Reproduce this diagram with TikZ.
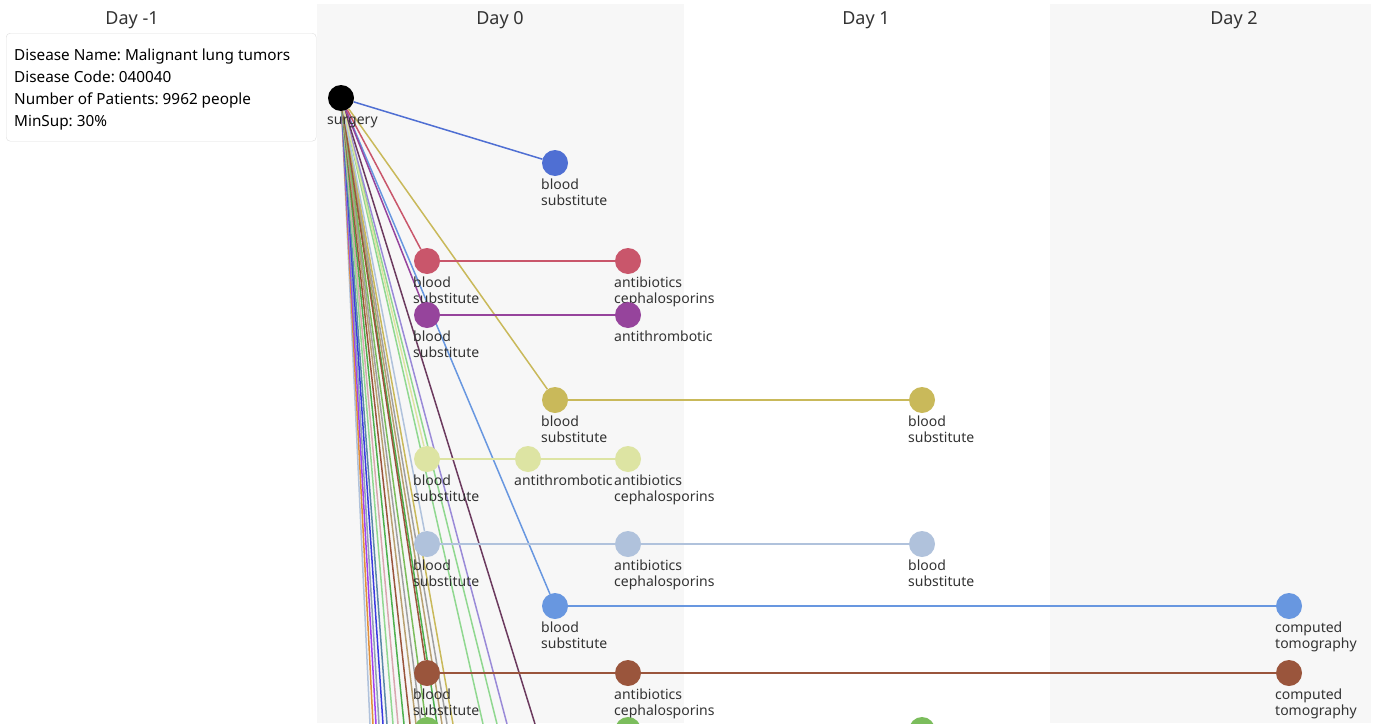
\documentclass[tikz,border=0pt]{standalone}
\usepackage{fontspec}
\setmainfont{Noto Sans}
\usetikzlibrary{positioning, backgrounds}
\frenchspacing

\definecolor{txt}{HTML}{333333}
\definecolor{colbg}{HTML}{F7F7F7}
\definecolor{boxline}{HTML}{DDDDDD}
\definecolor{cBlueA}{HTML}{4F6FD3}
\definecolor{cRed}{HTML}{C9566B}
\definecolor{cPurple}{HTML}{96449C}
\definecolor{cGold}{HTML}{C9B95A}
\definecolor{cPale}{HTML}{DDE4A3}
\definecolor{cMist}{HTML}{B0C2DC}
\definecolor{cCorn}{HTML}{6897E0}
\definecolor{cBrown}{HTML}{9A553C}
\definecolor{cGreen}{HTML}{7BBD5C}
\definecolor{cOrange}{HTML}{E0903A}
\definecolor{cViolet}{HTML}{A040F0}
\definecolor{cSlate}{HTML}{8FA0B8}
\definecolor{cBlueV}{HTML}{3A3AE0}
\definecolor{cSteel}{HTML}{5A88A8}
\definecolor{cLeaf}{HTML}{90D890}
\definecolor{cRose}{HTML}{D8A8B0}
\definecolor{cGreenD}{HTML}{4DB04D}
\definecolor{cTan}{HTML}{B8A070}
\definecolor{cGrayM}{HTML}{A0A0A0}
\definecolor{cLav}{HTML}{9A8AD8}
\definecolor{cPlum}{HTML}{6B3A5E}

\begin{document}
\begin{tikzpicture}[x=1pt, y=-1pt,
    ev/.style={circle, minimum size=26pt, inner sep=0pt},
    tag/.style={anchor=north west, xshift=-14pt, yshift=-2pt, align=left, inner sep=0pt,
        text=txt, font=\fontsize{14}{16}\selectfont},
    link/.style={line width=1.5pt},
    daytitle/.style={text=txt, font=\fontsize{18}{20}\selectfont},
    infobox/.style={draw=boxline, fill=white, rounded corners=4pt, anchor=north west,
        minimum width=310pt, minimum height=108pt, inner sep=0pt},
    infotext/.style={anchor=north west, inner sep=0pt, align=left,
        text=black, font=\fontsize{15.3}{22}\selectfont}]

    \useasboundingbox (0,0) rectangle (1375,723);
    \clip (0,0) rectangle (1375,723);

    % Day columns
    \begin{scope}[on background layer]
        \fill[colbg] (317,4) rectangle (684,723);
        \fill[colbg] (1050,4) rectangle (1371,723);
    \end{scope}
    \node[daytitle] (dm1) at (132,20) {Day -1};
    \node[daytitle] (d0) at (500,20) {Day 0};
    \node[daytitle] (d1) at (866,20) {Day 1};
    \node[daytitle] (d2) at (1234,20) {Day 2};

    % Summary box
    \node[infobox] (info) at (6,33) {};
    \node[infotext] (infotxt) at (14,48.5) {Disease Name: Malignant lung tumors\\
        Disease Code: 040040\\Number of Patients: 9962 people\\MinSup: 30\%};

    % Events
    \node[ev, fill=black, label={[tag, yshift=-3pt]below:surgery}] (surg) at (341,98) {};
    \node[ev, fill=cBlueA, label={[tag]below:{blood\\substitute}}] (a1) at (555,163) {};
    \node[ev, fill=cRed, label={[tag]below:{blood\\substitute}}] (r1) at (427,261) {};
    \node[ev, fill=cRed, label={[tag]below:{antibiotics\\cephalosporins}}] (r2) at (628,261) {};
    \node[ev, fill=cPurple, label={[tag]below:{blood\\substitute}}] (p1) at (427,315) {};
    \node[ev, fill=cPurple, label={[tag]below:antithrombotic}] (p2) at (628,315) {};
    \node[ev, fill=cGold, label={[tag]below:{blood\\substitute}}] (g1) at (555,400) {};
    \node[ev, fill=cGold, label={[tag]below:{blood\\substitute}}] (g2) at (922,400) {};
    \node[ev, fill=cPale, label={[tag]below:{blood\\substitute}}] (y1) at (427,459) {};
    \node[ev, fill=cPale, label={[tag]below:antithrombotic}] (y2) at (528,459) {};
    \node[ev, fill=cPale, label={[tag]below:{antibiotics\\cephalosporins}}] (y3) at (628,459) {};
    \node[ev, fill=cMist, label={[tag]below:{blood\\substitute}}] (m1) at (427,544) {};
    \node[ev, fill=cMist, label={[tag]below:{antibiotics\\cephalosporins}}] (m2) at (628,544) {};
    \node[ev, fill=cMist, label={[tag]below:{blood\\substitute}}] (m3) at (922,544) {};
    \node[ev, fill=cCorn, label={[tag]below:{blood\\substitute}}] (c1) at (555,606) {};
    \node[ev, fill=cCorn, label={[tag]below:{computed\\tomography}}] (c2) at (1289,606) {};
    \node[ev, fill=cBrown, label={[tag]below:{blood\\substitute}}] (b1) at (427,673) {};
    \node[ev, fill=cBrown, label={[tag]below:{antibiotics\\cephalosporins}}] (b2) at (628,673) {};
    \node[ev, fill=cBrown, label={[tag]below:{computed\\tomography}}] (b3) at (1289,673) {};
    \node[ev, fill=cGreen] (e1) at (427,730) {};
    \node[ev, fill=cGreen] (e2) at (628,730) {};
    \node[ev, fill=cGreen] (e3) at (922,730) {};

    % Paths running on below the page
    \foreach \n/\x in {o1/370, o2/373, o3/376, o4/379, o5/383, o6/387, o7/393, o8/398,
        o9/404, o10/410, o11/416, o12/421, o13/437, o14/442, o15/447, o16/453,
        o17/483, o18/497, o19/507, o20/535}
        \coordinate (\n) at (\x,724);

    % Connectors
    \begin{scope}[on background layer]
        \foreach \n/\c in {o1/cMist, o2/cOrange, o3/cViolet, o4/cSlate, o5/cBlueV,
            o6/cSteel, o7/cLeaf, o8/cRose, o9/cGreenD, o10/cBrown, o11/cTan, o12/cGrayM,
            o13/cGreenD, o14/cTan, o15/cGrayM, o16/cGold, o17/cLeaf, o18/cLeaf,
            o19/cLav, o20/cPlum}
            \draw[link, draw=\c] (surg) -- (\n);
        \foreach \t/\c in {e1/cGreen, b1/cBrown, c1/cCorn, m1/cMist, y1/cPale,
            g1/cGold, p1/cPurple, r1/cRed, a1/cBlueA}
            \draw[link, draw=\c] (surg) -- (\t);
        \draw[link, draw=cRed] (r1) -- (r2);
        \draw[link, draw=cPurple] (p1) -- (p2);
        \draw[link, draw=cGold] (g1) -- (g2);
        \draw[link, draw=cPale] (y1) -- (y2);
        \draw[link, draw=cPale] (y2) -- (y3);
        \draw[link, draw=cMist] (m1) -- (m2);
        \draw[link, draw=cMist] (m2) -- (m3);
        \draw[link, draw=cCorn] (c1) -- (c2);
        \draw[link, draw=cBrown] (b1) -- (b2);
        \draw[link, draw=cBrown] (b2) -- (b3);
        \draw[link, draw=cGreen] (e1) -- (e2);
        \draw[link, draw=cGreen] (e2) -- (e3);
    \end{scope}
\end{tikzpicture}
\end{document}
